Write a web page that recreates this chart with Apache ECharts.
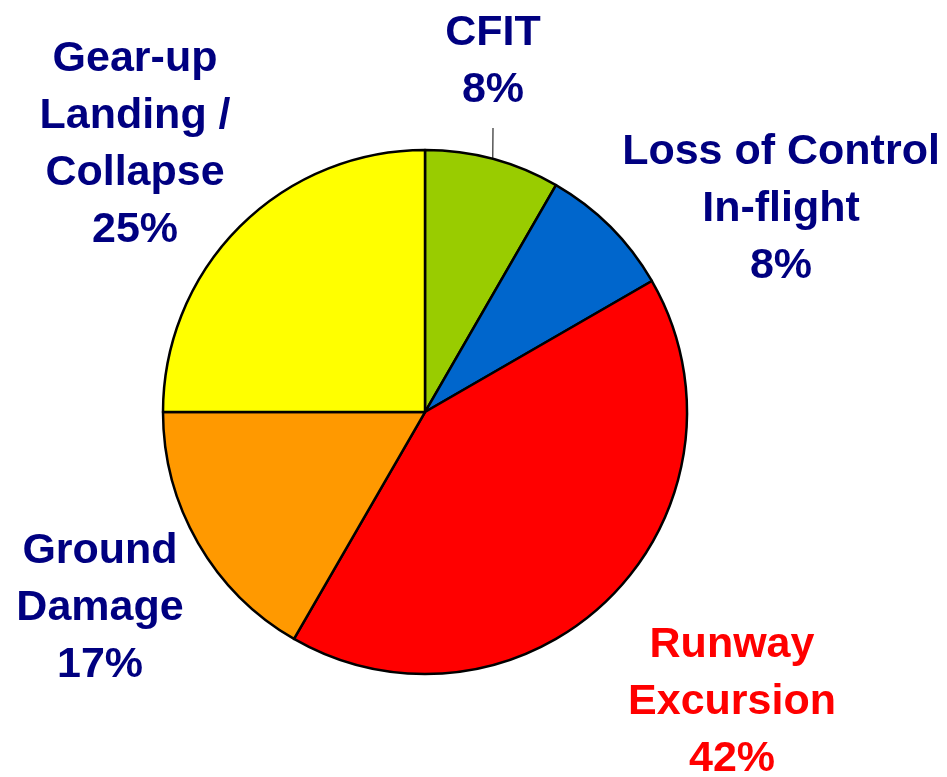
<!DOCTYPE html>
<html>
<head>
<meta charset="utf-8">
<script src="https://cdn.jsdelivr.net/npm/echarts@6/dist/echarts.min.js"></script>
<style>html,body{margin:0;padding:0;background:#fff;}#c{width:947px;height:777px;}</style>
</head>
<body>
<div id="c"></div>
<script>
// Data (slice counts: 30°,30°,150°,60°,90°)
const categories = ['CFIT', 'Loss of Control\nIn-flight', 'Runway\nExcursion', 'Ground\nDamage', 'Gear-up\nLanding /\nCollapse'];
const values = [1, 1, 5, 2, 3];
const colors = ['#99CC00', '#0066CC', '#FF0000', '#FF9900', '#FFFF00'];
const labelColors = ['#000080', '#000080', '#FF0000', '#000080', '#000080'];

// layout of label block centres
const labelPos = [[493, 62], [781, 209], [732, 702], [100, 608], [135, 145]];

const chart = echarts.init(document.getElementById('c'), null, {renderer: 'canvas'});
const data = categories.map((n, i) => ({
  name: n,
  value: values[i],
  itemStyle: {color: colors[i]},
  label: {color: labelColors[i], padding: i === 0 ? [0, 0, 18, 0] : 0},
  labelLine: {show: i === 0}
}));
chart.setOption({
  animation: false,
  backgroundColor: '#ffffff',
  series: [{
    type: 'pie',
    center: [425, 412],
    radius: 262,
    startAngle: 90,
    clockwise: true,
    percentPrecision: 0,
    avoidLabelOverlap: false,
    itemStyle: {borderColor: '#000000', borderWidth: 2.5},
    label: {
      show: true,
      position: 'outside',
      fontFamily: 'Liberation Sans, Arial, sans-serif',
      fontWeight: 'bold',
      fontSize: 43,
      lineHeight: 57,
      align: 'center',
      formatter: p => p.name + '\n' + Math.round(p.percent) + '%'
    },
    labelLine: {lineStyle: {color: '#000000', width: 1}, length: 20, length2: 0},
    labelLayout: function (p) {
      const pos = labelPos[p.dataIndex];
      return {x: pos[0], y: pos[1], align: 'center', verticalAlign: 'middle'};
    },
    emphasis: {disabled: true},
    data: data
  }]
});
</script>
</body>
</html>
